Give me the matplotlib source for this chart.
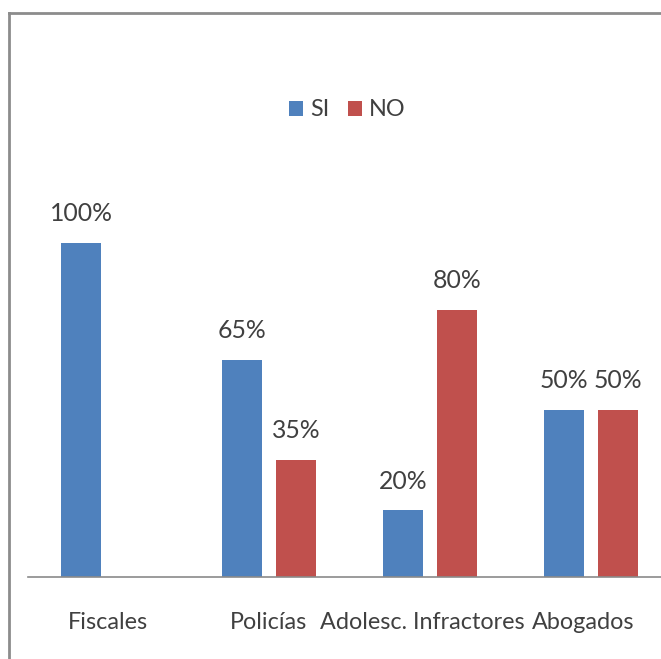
import matplotlib.pyplot as plt
from matplotlib.lines import Line2D
import numpy as np

categories = ["Fiscales", "Policías", "Adolesc. Infractores", "Abogados"]
si_values = [1.00, 0.65, 0.20, 0.50]
no_values = [0.00, 0.35, 0.80, 0.50]
series_names = ["SI", "NO"]
# Excel nudged the crowded category labels a little to the left
label_shift = [0.0, 0.0, -0.047, -0.05]

BLUE = "#4F81BD"
RED = "#C0504D"
TEXT = "#404040"
FONT = "Lato"
FS = 17.8
FS_TICK = 16.8

plt.rcParams["font.family"] = [FONT, "DejaVu Sans"]

fig = plt.figure(figsize=(6.61, 6.59), dpi=100)
W, H = 661, 659
# plot area: x from 27.5 px, 161 px per category; baseline at 577 px, 334 px per 100%
ax = fig.add_axes([27.5 / W, (H - 577) / H, 644 / W, 1.2 * 334 / H])

x = np.arange(len(categories))
bw = 0.248
off = 0.168
bars_si = ax.bar(x - off, si_values, bw, color=BLUE, label=series_names[0])
bars_no = ax.bar(x + off, no_values, bw, color=RED, label=series_names[1])

for bars, vals in ((bars_si, si_values), (bars_no, no_values)):
    for b, v in zip(bars, vals):
        if v == 0:
            continue
        ax.annotate(f"{v:.0%}", (b.get_x() + b.get_width() / 2, v),
                    xytext=(0, 21), textcoords="offset points",
                    ha="center", va="center", fontsize=FS, color=TEXT)

ax.set_xlim(-0.5, 3.5)
ax.set_ylim(0, 1.2)
ax.set_yticks([])
ax.set_xticks(x + np.array(label_shift), categories, fontsize=FS_TICK, color=TEXT)
ax.tick_params(axis="x", length=0, pad=25)
for s in ("left", "right", "top"):
    ax.spines[s].set_visible(False)
ax.spines["bottom"].set_color("#8a8a8a")
ax.spines["bottom"].set_linewidth(1.2)

fig.legend(loc="center", bbox_to_anchor=(347 / W, 1 - 110 / H), ncol=2, frameon=False,
           fontsize=FS_TICK, handlelength=0.6, handleheight=0.6, handletextpad=0.3,
           columnspacing=0.8, labelcolor=TEXT)

# outer chart frame (left and top edges visible)
fig.add_artist(Line2D([9 / W, 9 / W], [0, 1 - 13 / H], color="#8c8c8c", lw=2))
fig.add_artist(Line2D([9 / W, 1], [1 - 13 / H, 1 - 13 / H], color="#8c8c8c", lw=2))

fig.savefig("out.png", dpi=100)
